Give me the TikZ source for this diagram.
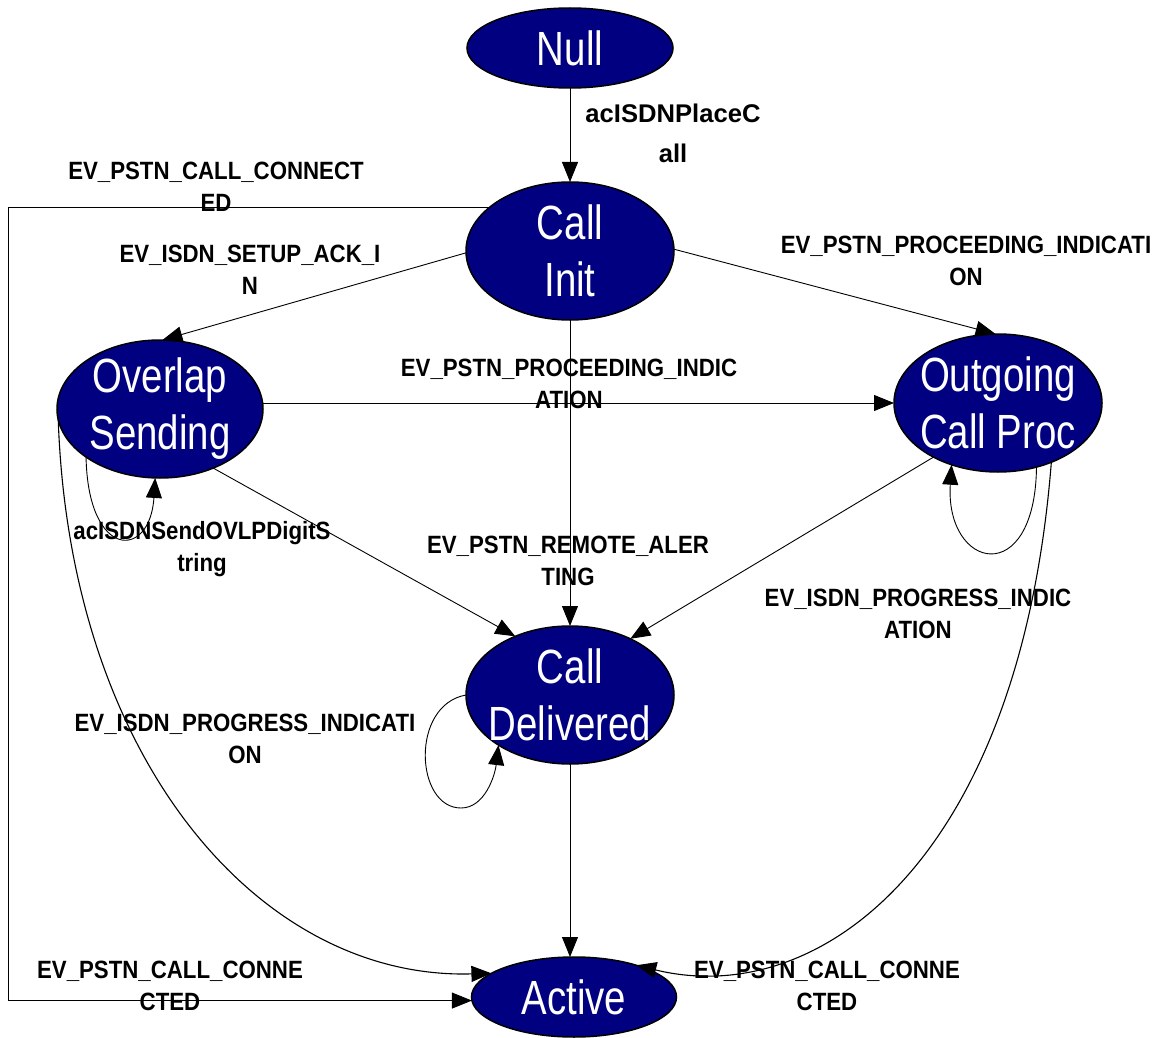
\documentclass[tikz,border=0pt]{standalone}
\usepackage{fontspec}
\usetikzlibrary{shapes.geometric,arrows.meta}
\newfontfamily\statefont[FakeStretch=0.8]{Liberation Sans}
\newfontfamily\eventfont[FakeStretch=0.89]{Liberation Sans Bold}
\newfontfamily\actionfont{Liberation Sans Bold}
\definecolor{statefill}{RGB}{0,0,128}

\begin{document}
\begin{tikzpicture}[x=1pt,y=-1pt,
  state/.style={ellipse, draw=black, line width=1.5pt, fill=statefill, inner sep=0pt, outer sep=0pt},
  statetext/.style={text=white, align=center, inner sep=0pt, font=\statefont\fontsize{48}{57}\selectfont},
  conn/.style={draw=black, line width=0.9pt, -{Triangle[length=20pt,width=16pt]}},
  evlabel/.style={align=center, inner sep=0pt, font=\eventfont\fontsize{25}{32}\selectfont},
  actlabel/.style={align=center, inner sep=0pt, font=\actionfont\fontsize{25.6}{40}\selectfont},
]
\useasboundingbox (0,0) rectangle (1163,1038);

% states
\node[state, minimum width=206pt, minimum height=80pt,  label={[statetext]center:Null}] (null) at (570,48) {};
\node[state, minimum width=208pt, minimum height=138pt, label={[statetext]center:{Call\\Init}}] (ci) at (570,251) {};
\node[state, minimum width=206pt, minimum height=138pt, label={[statetext]center:{Overlap\\Sending}}] (ov) at (160,409) {};
\node[state, minimum width=208pt, minimum height=138pt, label={[statetext]center:{Outgoing\\Call Proc}}] (ogp) at (998,403) {};
\node[state, minimum width=208pt, minimum height=138pt, label={[statetext]center:{Call\\Delivered}}] (cd) at (570,695) {};
\node[state, minimum width=205pt, minimum height=80pt,  label={[statetext]center:Active}] (act) at (574,997) {};

% corner of the left-hand bypass
\coordinate (lbend) at (8,207);

% transitions
\draw[conn] (null.south) -- (ci.north);
\draw[conn] (ci.152) -- (ci.152 -| lbend) -- (lbend |- act.182) -- (act.182);
\draw[conn] (ci.181) -- (ov.88);
\draw[conn] (ci.1) -- (ogp.92);
\draw[conn] (ov.east |- ogp.west) -- (ogp.west);
\draw[conn] (ci.south) -- (cd.north);
\draw[conn] (ov.-48) -- (cd.133);
\draw[conn] (ogp.220) -- (cd.43);
\draw[conn] (cd.south) -- (cd.south |- act.north);

% self loops
\draw[conn] (ov.213) .. controls (88,560) and (150,560) .. (ov.-94);
\draw[conn] (ogp.-59) .. controls (1035,590) and (945,570) .. (ogp.-127);
\draw[conn] (cd.west) .. controls (410,705) and (415,808) .. (461,808)
            .. controls (485,808) and (495,775) .. (cd.215);

% long arcs into Active
\draw[conn, line width=1.1pt] (ov.186) .. controls (70,760) and (260,980) .. (act.164);
\draw[conn, line width=1.1pt] (ogp.-48) .. controls (1020,860) and (820,1010) .. (act.27);

% transition labels
\node[actlabel] (l1)  at (673,133) {acISDNPlaceC\\all};
\node[evlabel]  (l2)  at (216,187) {EV\_PSTN\_CALL\_CONNECT\\ED};
\node[evlabel]  (l3)  at (250,270) {EV\_ISDN\_SETUP\_ACK\_I\\N};
\node[evlabel]  (l4)  at (966,261) {EV\_PSTN\_PROCEEDING\_INDICATI\\ON};
\node[evlabel]  (l5)  at (569,384) {EV\_PSTN\_PROCEEDING\_INDIC\\ATION};
\node[evlabel]  (l6)  at (202,549) {acISDNSendOVLPDigitS\\tring};
\node[evlabel]  (l7)  at (568,561) {EV\_PSTN\_REMOTE\_ALER\\TING};
\node[evlabel]  (l8)  at (918,614) {EV\_ISDN\_PROGRESS\_INDIC\\ATION};
\node[evlabel]  (l9)  at (245,739) {EV\_ISDN\_PROGRESS\_INDICATI\\ON};
\node[evlabel]  (l10) at (170,986) {EV\_PSTN\_CALL\_CONNE\\CTED};
\node[evlabel]  (l11) at (827,986) {EV\_PSTN\_CALL\_CONNE\\CTED};
\end{tikzpicture}
\end{document}
